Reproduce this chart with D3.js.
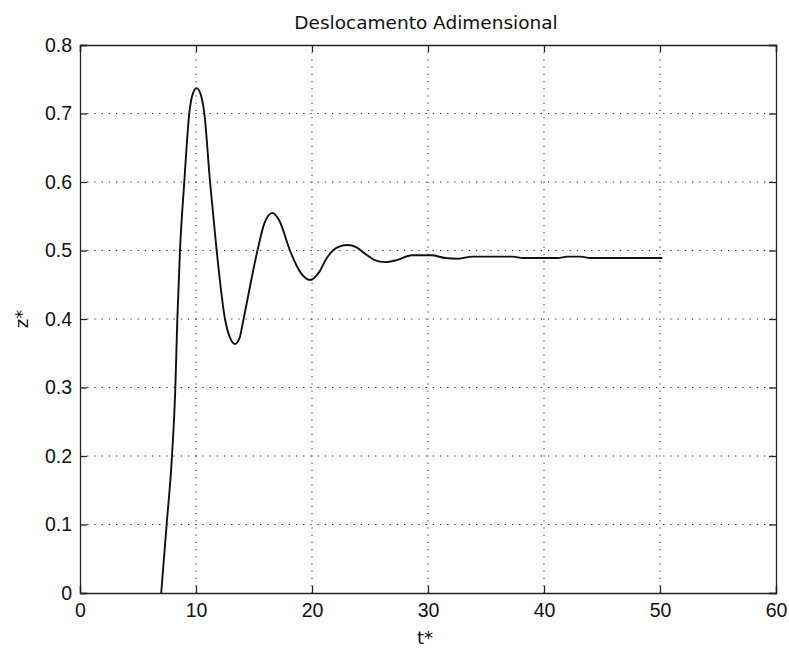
<!DOCTYPE html>
<html>
<head>
<meta charset="utf-8">
<script src="https://cdn.jsdelivr.net/npm/d3@7"></script>
<style>
  html, body { margin: 0; padding: 0; background: #fff; }
  svg { display: block; }
  .tick text { font-family: "Liberation Sans", Arial, sans-serif; font-size: 19.5px; fill: #111; }
  .lbl { font-family: "DejaVu Sans", sans-serif; fill: #111; }
</style>
</head>
<body>
<svg id="chart" width="789" height="648"></svg>
<script>
// Dimensionless displacement response z*(t*)
const tStar = [7.0, 7.47, 7.93, 8.22, 8.39, 8.62, 8.99, 9.42, 9.75, 10.06, 10.4, 10.72,
  11.21, 11.78, 12.5, 12.95, 13.36, 13.75, 14.1, 15.3, 15.9, 16.6, 17.2, 18.1, 19.0,
  19.83, 20.6, 21.2, 21.8, 22.4, 23.07, 23.8, 24.6, 25.4, 26.3, 27.3, 28.6, 30.3, 31.5,
  32.6, 33.8, 37.3, 38.2, 41.2, 42.0, 43.2, 44.0, 50.2];
const zStar = [0.0, 0.1, 0.2, 0.3, 0.4, 0.5, 0.6, 0.7, 0.73, 0.737, 0.728, 0.7,
  0.6, 0.5, 0.4, 0.372, 0.3635, 0.372, 0.4, 0.5, 0.54, 0.555, 0.543, 0.5, 0.468,
  0.457, 0.468, 0.487, 0.5, 0.506, 0.508, 0.505, 0.495, 0.486, 0.483, 0.486, 0.493, 0.493, 0.489,
  0.488, 0.491, 0.491, 0.489, 0.489, 0.491, 0.491, 0.489, 0.489];

const xTicks = [0, 10, 20, 30, 40, 50, 60];
const yTicks = [0, 0.1, 0.2, 0.3, 0.4, 0.5, 0.6, 0.7, 0.8];
const titleText = "Deslocamento Adimensional";
const xLabel = "t*";
const yLabel = "z*";

const svg = d3.select("#chart");
const m = { left: 80, top: 45, right: 13, bottom: 55 };
const W = 789 - m.left - m.right;   // 696
const H = 648 - m.top - m.bottom;   // 548

const x = d3.scaleLinear().domain([0, 60]).range([0, W]);
const y = d3.scaleLinear().domain([0, 0.8]).range([H, 0]);

const g = svg.append("g").attr("transform", `translate(${m.left},${m.top})`);

// dotted grid
g.append("g").selectAll("line").data(xTicks.slice(1, -1)).join("line")
  .attr("x1", d => x(d)).attr("x2", d => x(d)).attr("y1", 0).attr("y2", H)
  .attr("stroke", "#222").attr("stroke-width", 1).attr("stroke-dasharray", "1.2,6");
g.append("g").selectAll("line").data(yTicks.slice(1, -1)).join("line")
  .attr("x1", 0).attr("x2", W).attr("y1", d => y(d)).attr("y2", d => y(d))
  .attr("stroke", "#222").attr("stroke-width", 1).attr("stroke-dasharray", "1.2,6");

const fmtY = d => d === 0 ? "0" : d3.format(".1f")(d);
const tickLen = 7;

// axes with inward ticks on all four sides
const xb = g.append("g").attr("transform", `translate(0,${H})`)
  .call(d3.axisBottom(x).tickValues(xTicks).tickSize(-tickLen).tickPadding(10).tickFormat(d3.format("d")));
const xt = g.append("g")
  .call(d3.axisTop(x).tickValues(xTicks).tickSize(-tickLen).tickFormat(""));
const yl = g.append("g")
  .call(d3.axisLeft(y).tickValues(yTicks).tickSize(-tickLen).tickPadding(8).tickFormat(fmtY));
const yr = g.append("g").attr("transform", `translate(${W},0)`)
  .call(d3.axisRight(y).tickValues(yTicks).tickSize(-tickLen).tickFormat(""));
[xb, xt, yl, yr].forEach(a => {
  a.select(".domain").attr("stroke", "#222").attr("stroke-width", 1.3);
  a.selectAll(".tick line").attr("stroke", "#222").attr("stroke-width", 1.3);
});

// response curve
const line = d3.line().x((d, i) => x(tStar[i])).y(d => y(d)).curve(d3.curveMonotoneX);
g.append("path").datum(zStar).attr("d", line)
  .attr("fill", "none").attr("stroke", "#111").attr("stroke-width", 1.9)
  .attr("stroke-linejoin", "round");

// labels
svg.append("text").attr("class", "lbl").attr("x", m.left + W / 2 - 2).attr("y", 29)
  .attr("text-anchor", "middle").attr("font-size", 18.5).text(titleText);
svg.append("text").attr("class", "lbl").attr("x", m.left + W / 2 - 3).attr("y", 644)
  .attr("text-anchor", "middle").attr("font-size", 18).text(xLabel);
svg.append("text").attr("class", "lbl")
  .attr("transform", `translate(28,${m.top + H / 2}) rotate(-90)`)
  .attr("text-anchor", "middle").attr("font-size", 18).text(yLabel);
</script>
</body>
</html>
